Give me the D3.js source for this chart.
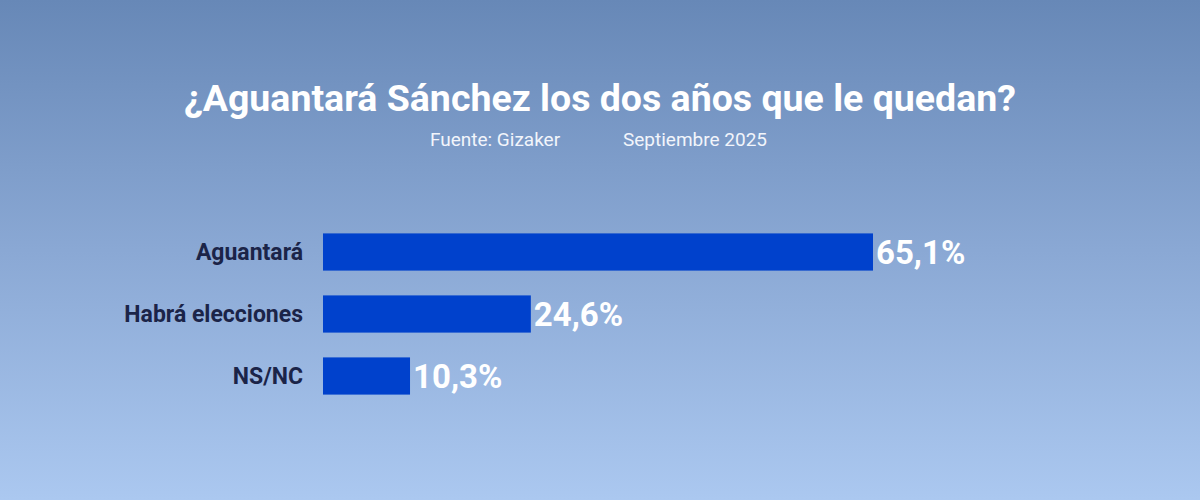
<!DOCTYPE html>
<html>
<head>
<meta charset="utf-8">
<script src="https://cdn.jsdelivr.net/npm/d3@7"></script>
<style>
  html, body { margin: 0; padding: 0; }
  body { width: 1200px; height: 500px; overflow: hidden; }
</style>
</head>
<body>
<div id="chart"></div>
<script>
// datos de la encuesta
const categories = ["Aguantará", "Habrá elecciones", "NS/NC"];
const values = [65.1, 24.6, 10.3];
const title = "¿Aguantará Sánchez los dos años que le quedan?";
const source = "Fuente: Gizaker";
const date = "Septiembre 2025";

const width = 1200, height = 500;

const svg = d3.select("#chart").append("svg")
    .attr("width", width)
    .attr("height", height)
    .attr("viewBox", [0, 0, width, height]);

// fondo degradado vertical
const grad = svg.append("defs").append("linearGradient")
    .attr("id", "bg")
    .attr("x1", 0).attr("y1", 0).attr("x2", 0).attr("y2", 1);
grad.append("stop").attr("offset", "0%").attr("stop-color", "#6788b7");
grad.append("stop").attr("offset", "50%").attr("stop-color", "#8aa8d4");
grad.append("stop").attr("offset", "100%").attr("stop-color", "#abc8f0");

svg.append("rect")
    .attr("width", width)
    .attr("height", height)
    .attr("fill", "url(#bg)");

// título y subtítulo
svg.append("text")
    .attr("x", 600)
    .attr("y", 111)
    .attr("text-anchor", "middle")
    .attr("fill", "white")
    .attr("font-family", "Roboto, sans-serif")
    .attr("font-weight", 700)
    .attr("font-size", "37.5px")
    .text(title);

svg.append("text")
    .attr("x", 495)
    .attr("y", 146)
    .attr("text-anchor", "middle")
    .attr("fill", "#f2f5fb")
    .attr("font-family", "Roboto, sans-serif")
    .attr("font-size", "19px")
    .text(source);

svg.append("text")
    .attr("x", 695)
    .attr("y", 146)
    .attr("text-anchor", "middle")
    .attr("fill", "#f2f5fb")
    .attr("font-family", "Roboto, sans-serif")
    .attr("font-size", "19px")
    .text(date);

// escalas
const x = d3.scaleLinear()
    .domain([0, 65.1])
    .range([323, 873]);

const y = d3.scaleBand()
    .domain(categories)
    .range([221, 407])
    .paddingInner(0.4)
    .paddingOuter(0.2);

const g = svg.append("g");

g.selectAll("rect.bar")
    .data(categories)
    .join("rect")
    .attr("class", "bar")
    .attr("x", x(0))
    .attr("y", d => y(d))
    .attr("width", (d, i) => x(values[i]) - x(0))
    .attr("height", y.bandwidth())
    .attr("fill", "#0041cc");

// etiquetas de categoría
g.selectAll("text.cat")
    .data(categories)
    .join("text")
    .attr("class", "cat")
    .attr("x", 303)
    .attr("y", d => y(d) + y.bandwidth() / 2)
    .attr("dy", "0.35em")
    .attr("text-anchor", "end")
    .attr("fill", "#1b2448")
    .attr("font-family", "Roboto, sans-serif")
    .attr("font-weight", 700)
    .attr("font-size", "23px")
    .text(d => d);

// valores
g.selectAll("text.val")
    .data(categories)
    .join("text")
    .attr("class", "val")
    .attr("x", (d, i) => x(values[i]) + 3)
    .attr("y", d => y(d) + y.bandwidth() / 2)
    .attr("dy", "0.36em")
    .attr("fill", "white")
    .attr("font-family", "Roboto, sans-serif")
    .attr("font-weight", 700)
    .attr("font-size", "33px")
    .text((d, i) => values[i].toFixed(1).replace(".", ",") + "%");
</script>
</body>
</html>
